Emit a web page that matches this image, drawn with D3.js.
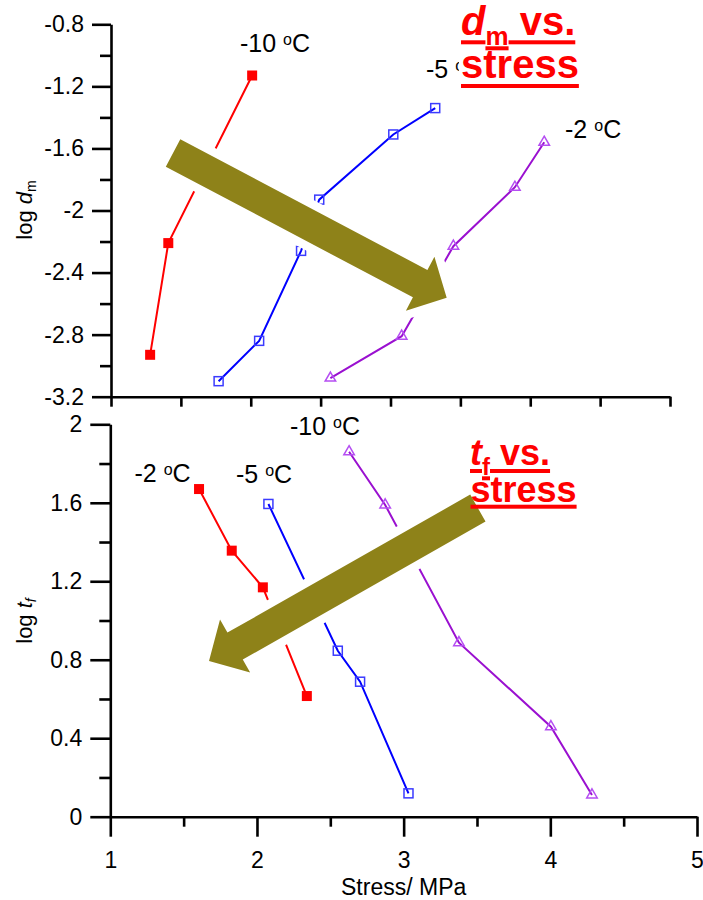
<!DOCTYPE html>
<html>
<head>
<meta charset="utf-8">
<script src="https://cdn.jsdelivr.net/npm/d3@7"></script>
<style>
  html, body { margin: 0; padding: 0; background: #fff; }
  svg { display: block; font-family: Arial, 'Liberation Sans', sans-serif; }
</style>
</head>
<body>
<svg id="chart" width="703" height="900"></svg>
<script>
// top panel: log d_m vs stress
const stressTopA = [1.28, 1.41, 2.01]
const logDmA = [-2.93, -2.21, -1.13]
const stressTopB = [1.77, 2.06, 2.36, 2.49, 3.02, 3.32]
const logDmB = [-3.10, -2.84, -2.26, -1.93, -1.51, -1.34]
const stressTopC = [2.57, 3.08, 3.45, 3.89, 4.10]
const logDmC = [-3.08, -2.81, -2.23, -1.85, -1.56]

// bottom panel: log t_f vs stress
const stressBotA = [1.605, 1.828, 2.04, 2.34]
const logTfA = [1.67, 1.356, 1.169, 0.615]
const stressBotB = [2.078, 2.551, 2.703, 3.033]
const logTfB = [1.594, 0.846, 0.688, 0.119]
const stressBotC = [2.628, 2.874, 3.377, 4.004, 4.284]
const logTfC = [1.86, 1.589, 0.887, 0.459, 0.111]

const topLabels = ['-10', '-5', '-2']
const botLabels = ['-2', '-5', '-10']

const xMajor = [1, 2, 3, 4, 5]
const xMinor = [1.5, 2.5, 3.5, 4.5]
const xAllHalf = [1, 1.5, 2, 2.5, 3, 3.5, 4, 4.5, 5]
const yTopMajor = [-3.2, -2.8, -2.4, -2, -1.6, -1.2, -0.8]
const yTopMinor = [-3.0, -2.6, -2.2, -1.8, -1.4, -1.0]
const yBotMajor = [0, 0.4, 0.8, 1.2, 1.6, 2]
const yBotMinor = [0.2, 0.6, 1.0, 1.4, 1.8]

const svg = d3.select('#chart')
const F = "Arial, 'Liberation Sans', sans-serif"

const xTop = d3.scaleLinear().domain([1, 5]).range([111, 670])
const yTop = d3.scaleLinear().domain([-3.2, -0.8]).range([396.7, 24.3])
const xBot = d3.scaleLinear().domain([1, 5]).range([110.3, 697])
const yBot = d3.scaleLinear().domain([0, 2]).range([816.7, 424.3])

const styleAxis = (g) => {
  g.attr('font-family', F).attr('font-size', 23)
  g.selectAll('.domain').attr('stroke', '#000').attr('stroke-width', 2.6)
  g.selectAll('.tick line').attr('stroke', '#000').attr('stroke-width', 2.6)
  g.selectAll('.tick text').attr('fill', '#000')
}

// axes, top
const axTop = svg.append('g')
axTop.append('g').attr('transform', `translate(${xTop(1)},0)`)
  .call(d3.axisLeft(yTop).tickValues(yTopMinor).tickSize(11).tickSizeOuter(0).tickFormat(''))
  .call((g) => g.select('.domain').remove()).call(styleAxis)
axTop.append('g').attr('transform', `translate(${xTop(1)},0)`)
  .call(d3.axisLeft(yTop).tickValues(yTopMajor).tickSize(19).tickSizeOuter(0).tickPadding(8).tickFormat((d) => String(d)))
  .call(styleAxis)
axTop.append('g').attr('transform', `translate(0,${yTop(-3.2)})`)
  .call(d3.axisBottom(xTop).tickValues(xAllHalf).tickSize(10).tickSizeOuter(0).tickFormat(''))
  .call(styleAxis)

// axes, bottom
const axBot = svg.append('g')
axBot.append('g').attr('transform', `translate(${xBot(1)},0)`)
  .call(d3.axisLeft(yBot).tickValues(yBotMinor).tickSize(11).tickSizeOuter(0).tickFormat(''))
  .call((g) => g.select('.domain').remove()).call(styleAxis)
axBot.append('g').attr('transform', `translate(${xBot(1)},0)`)
  .call(d3.axisLeft(yBot).tickValues(yBotMajor).tickSize(20).tickSizeOuter(0).tickPadding(8).tickFormat((d) => String(d)))
  .call(styleAxis)
axBot.append('g').attr('transform', `translate(0,${yBot(0)})`)
  .call(d3.axisBottom(xBot).tickValues(xMinor).tickSize(10).tickSizeOuter(0).tickFormat(''))
  .call((g) => g.select('.domain').remove()).call(styleAxis)
axBot.append('g').attr('transform', `translate(0,${yBot(0)})`)
  .call(d3.axisBottom(xBot).tickValues(xMajor).tickSize(20).tickSizeOuter(0).tickPadding(15).tickFormat((d) => String(d)))
  .call(styleAxis)

// axis titles
const yTitle = (cy, main, sub) => {
  const t = svg.append('text').attr('transform', `translate(32,${cy}) rotate(-90)`)
    .attr('text-anchor', 'middle').attr('font-family', F).attr('font-size', 22).attr('fill', '#000')
  t.append('tspan').text('log ')
  t.append('tspan').attr('font-style', 'italic').text(main)
  t.append('tspan').attr('font-size', 14).attr('dy', 4).attr('font-style', sub === 'f' ? 'italic' : 'normal').text(sub)
}
yTitle(210, 'd', 'm')
yTitle(621, 't', 'f')
svg.append('text').attr('x', xBot(3)).attr('y', 895).attr('text-anchor', 'middle')
  .attr('font-family', F).attr('font-size', 23).attr('fill', '#000').text('Stress/ MPa')

// series
const topSeries = [
  { xs: stressTopA, ys: logDmA, line: '#ff0000', marker: 'filled' },
  { xs: stressTopB, ys: logDmB, line: '#0000ff', marker: 'square' },
  { xs: stressTopC, ys: logDmC, line: '#9a10d0', marker: 'triangle' },
]
const botSeries = [
  { xs: stressBotA, ys: logTfA, line: '#ff0000', marker: 'filled' },
  { xs: stressBotB, ys: logTfB, line: '#0000ff', marker: 'square' },
  { xs: stressBotC, ys: logTfC, line: '#9a10d0', marker: 'triangle' },
]

const drawSeries = (series, x, y) => {
  const layer = svg.append('g')
  series.forEach((s) => {
    const pts = s.xs.map((v, i) => [v, s.ys[i]])
    layer.append('path').datum(pts)
      .attr('d', d3.line().x((d) => x(d[0])).y((d) => y(d[1])))
      .attr('fill', 'none').attr('stroke', s.line).attr('stroke-width', 2)
    if (s.marker === 'filled') {
      layer.selectAll(null).data(pts).join('rect')
        .attr('x', (d) => x(d[0]) - 5).attr('y', (d) => y(d[1]) - 5)
        .attr('width', 10).attr('height', 10).attr('fill', '#ff0000')
    } else if (s.marker === 'square') {
      layer.selectAll(null).data(pts).join('rect')
        .attr('x', (d) => x(d[0]) - 4.5).attr('y', (d) => y(d[1]) - 4.5)
        .attr('width', 9).attr('height', 9).attr('fill', 'none')
        .attr('stroke', '#3b3bff').attr('stroke-width', 1.5)
    } else {
      layer.selectAll(null).data(pts).join('path')
        .attr('transform', (d) => `translate(${x(d[0])},${y(d[1])})`)
        .attr('d', d3.symbol(d3.symbolTriangle, 48))
        .attr('fill', 'none').attr('stroke', '#b54ef2').attr('stroke-width', 1.5)
    }
  })
}
drawSeries(topSeries, xTop, yTop)
drawSeries(botSeries, xBot, yBot)

// trend arrows (ends in data units)
const arrowTop = { from: [1.444, -1.629], to: [3.402, -2.562] }
const arrowBot = { from: [3.506, 1.573], to: [1.673, 0.794] }

const drawArrow = (a, x, y) => {
  const T = [x(a.from[0]), y(a.from[1])]
  const P = [x(a.to[0]), y(a.to[1])]
  const len = Math.hypot(P[0] - T[0], P[1] - T[1])
  const u = [(P[0] - T[0]) / len, (P[1] - T[1]) / len]
  const n = [-u[1], u[0]]
  const w = 15.5, h = 30.5, L = 30
  const B = [P[0] - u[0] * L, P[1] - u[1] * L]
  const at = (p, k) => [p[0] + n[0] * k, p[1] + n[1] * k]
  const poly = [at(T, w), at(B, w), at(B, h), P, at(B, -h), at(B, -w), at(T, -w)]
  svg.append('polygon').attr('points', poly.map((p) => p.join(',')).join(' '))
    .attr('fill', '#8e8219').attr('stroke', '#fff').attr('stroke-width', 17)
    .attr('stroke-linejoin', 'miter').attr('paint-order', 'stroke')
}
drawArrow(arrowTop, xTop, yTop)
drawArrow(arrowBot, xBot, yBot)

// temperature labels (anchor in data units)
const topLabelPos = [[1.923, -0.977], [3.254, -1.148], [4.249, -1.531]]
const botLabelPos = [[1.165, 1.707], [1.857, 1.702], [2.225, 1.945]]

const tempLabel = (txt, px, py) => {
  const t = svg.append('text').attr('x', px).attr('y', py)
    .attr('font-family', F).attr('font-size', 25).attr('fill', '#000')
  t.append('tspan').text(txt + ' ')
  t.append('tspan').attr('font-size', 16).attr('dy', -7).text('o')
  t.append('tspan').attr('dy', 7).text('C')
}
topLabels.forEach((l, i) => tempLabel(l, xTop(topLabelPos[i][0]), yTop(topLabelPos[i][1])))
botLabels.forEach((l, i) => tempLabel(l, xBot(botLabelPos[i][0]), yBot(botLabelPos[i][1])))

// red underlined titles
const richLine = (g, x0, base, parts) => {
  let cx = x0
  parts.forEach((p) => {
    const t = g.append('text').attr('x', cx).attr('y', base + (p.dy || 0))
      .attr('font-family', F).attr('font-weight', 'bold').attr('font-size', p.size)
      .attr('font-style', p.italic ? 'italic' : 'normal').attr('fill', '#ff0000')
      .style('white-space', 'pre').text(p.t)
    const w = t.node().getComputedTextLength()
    g.append('rect').attr('x', cx).attr('y', base + (p.dy || 0) + p.u - 2)
      .attr('width', w).attr('height', 4).attr('fill', '#ff0000')
    cx += w
  })
}

const titleTop = svg.append('g')
titleTop.append('rect').attr('x', 459).attr('y', 0).attr('width', 124).attr('height', 90).attr('fill', '#fff')
richLine(titleTop, 461, 35, [
  { t: 'd', size: 40, italic: true, u: 7.3 },
  { t: 'm', size: 26, dy: 10, u: 3.3 },
  { t: ' vs.', size: 40, u: 7.3 },
])
richLine(titleTop, 461, 78.3, [{ t: 'stress', size: 40, u: 7.7 }])

const titleBot = svg.append('g')
richLine(titleBot, 470, 465, [
  { t: 't', size: 36, italic: true, u: 6 },
  { t: 'f', size: 24, dy: 10, u: 3.3 },
  { t: ' vs.', size: 36, u: 6 },
])
richLine(titleBot, 470.5, 501.7, [{ t: 'stress', size: 36, u: 5 }])
</script>
</body>
</html>
